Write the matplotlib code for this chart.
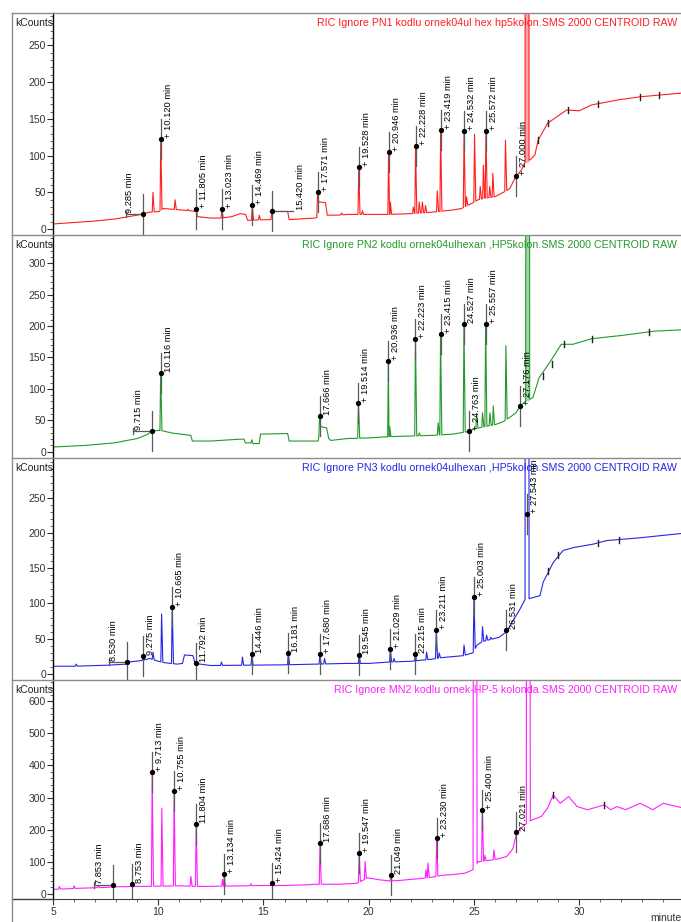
import numpy as np
import matplotlib
matplotlib.use("Agg")
import matplotlib.pyplot as plt
from matplotlib import font_manager
from matplotlib.ticker import MultipleLocator
from matplotlib.lines import Line2D


def has_font(name):
    try:
        font_manager.findfont(font_manager.FontProperties(family=name), fallback_to_default=False)
        return True
    except ValueError:
        return False


BASE_FONT = "Liberation Sans" if has_font("Liberation Sans") else "DejaVu Sans"
NARROW = has_font("Liberation Sans Narrow")
LABEL_FONT = "Liberation Sans Narrow" if NARROW else BASE_FONT
LABEL_SIZE = 7.5 if NARROW else 6.7
plt.rcParams["font.family"] = [BASE_FONT, "DejaVu Sans"]

# ---- data (time in minutes, kCounts) ----
titles = [
    "RIC Ignore PN1 kodlu ornek04ul hex hp5kolon.SMS 2000 CENTROID RAW",
    "RIC Ignore PN2 kodlu ornek04ulhexan ,HP5kolon.SMS 2000 CENTROID RAW",
    "RIC Ignore PN3 kodlu ornek04ulhexan ,HP5kolon.SMS 2000 CENTROID RAW",
    "RIC Ignore MN2 kodlu ornek-HP-5 kolonda.SMS 2000 CENTROID RAW",
]
colors = ["#ff1f1f", "#23992a", "#2626e8", "#ff1fff"]
ylims = [(-8, 294), (-10, 345), (-8.5, 306), (-16, 666)]
y_major = [50, 50, 50, 100]
y_minor = [10, 10, 10, 20]

# PN1
p1_base = [(5.0, 7), (6.0, 9), (7.0, 11), (8.0, 14), (9.0, 19), (9.6, 23), (10.05, 24), (10.25, 28),
           (10.7, 27), (11.5, 25), (11.78, 24), (11.86, 17), (12.5, 15), (13.0, 15), (13.5, 17),
           (13.9, 21), (14.15, 20), (14.25, 12), (15.35, 13), (15.42, 24), (16.15, 24), (16.22, 13),
           (17.45, 15), (17.55, 16), (17.62, 37), (17.95, 36), (18.03, 19), (18.5, 19), (19.0, 20),
           (20.0, 20), (21.0, 20), (22.0, 21), (23.0, 23), (24.0, 26), (24.4, 28), (24.9, 35),
           (25.2, 40), (25.5, 42), (26.0, 44), (26.4, 50), (26.7, 55), (27.0, 72), (27.25, 80),
           (27.42, 90), (27.7, 95), (27.9, 101), (28.05, 121), (28.5, 144), (29.4, 162), (30.0, 161),
           (30.6, 169), (31.9, 176), (32.9, 180), (34.84, 185)]
p1_peaks = [(9.75, 50), (10.12, 122), (10.8, 40), (11.4, 27), (11.805, 28), (13.023, 27),
            (14.469, 33), (14.8, 19), (17.571, 50), (18.71, 22), (19.528, 84), (19.7, 25),
            (20.946, 105), (21.03, 37), (22.12, 30), (22.228, 113), (22.4, 37), (22.55, 37),
            (22.7, 32), (23.26, 52), (23.419, 135), (24.532, 133), (24.65, 44), (25.03, 129),
            (25.3, 58), (25.45, 87), (25.572, 133), (25.75, 58), (25.9, 76), (26.5, 121)]
p1_big = [27.52]
p1_marks = [(9.285, 20), (10.120, 122), (11.805, 28), (13.023, 27), (14.469, 33), (15.420, 25),
            (17.571, 50), (19.528, 84), (20.946, 105), (22.228, 113), (23.419, 135), (24.532, 133),
            (25.572, 133), (27.000, 72)]
p1_labels = ["9.285 min", "+ 10.120 min", "+ 11.805 min", "+ 13.023 min", "+ 14.469 min",
             "15.420 min", "+ 17.571 min", "+ 19.528 min", "+ 20.946 min", "+ 22.228 min",
             "+ 23.419 min", "+ 24.532 min", "+ 25.572 min", "+ 27.000 min"]
p1_ticks = [(28.05, 121), (28.5, 144), (29.45, 162), (30.9, 170), (32.9, 180), (33.8, 183)]
p1_spans = [(8.45, 9.285, 20), (15.42, 16.42, 25)]

# PN2
p2_base = [(5.0, 7.5), (6.5, 10), (7.9, 14), (9.0, 21), (9.45, 27), (9.74, 33), (10.05, 34),
           (10.25, 33), (10.6, 30), (11.55, 26), (11.62, 17), (12.5, 17), (13.88, 20), (14.08, 20),
           (14.14, 14), (14.4, 14), (14.45, 19), (14.5, 13), (14.8, 13), (14.86, 28), (16.15, 29),
           (16.22, 17), (17.6, 17), (17.7, 40), (18.0, 38), (18.1, 21), (18.2, 18), (19.0, 21),
           (20.0, 22), (21.0, 24), (22.0, 25), (23.0, 26), (24.0, 28), (24.7, 32), (25.0, 36),
           (25.5, 40), (26.0, 43), (26.4, 48), (26.8, 57), (27.0, 62), (27.2, 73), (27.45, 80),
           (27.8, 86), (28.1, 118), (28.6, 142), (29.15, 171), (29.7, 171), (30.6, 180),
           (32.0, 185), (33.6, 192), (34.84, 194)]
p2_peaks = [(10.116, 126), (10.55, 31), (17.666, 57), (19.514, 78), (20.936, 145), (21.0, 40),
            (22.223, 180), (22.4, 30), (23.3, 46), (23.415, 188), (24.527, 203), (25.13, 60),
            (25.41, 62), (25.557, 204), (25.76, 62), (25.92, 73), (26.52, 169)]
p2_big = [27.55]
p2_marks = [(9.715, 33), (10.116, 126), (17.666, 57), (19.514, 77), (20.936, 145), (22.223, 180),
            (23.415, 188), (24.527, 203), (24.763, 33), (25.557, 204), (27.176, 73)]
p2_labels = ["9.715 min", "10.116 min", "17.666 min", "+ 19.514 min", "+ 20.936 min",
             "+ 22.223 min", "+ 23.415 min", "24.527 min", "+ 24.763 min", "+ 25.557 min",
             "+ 27.176 min"]
p2_ticks = [(28.3, 121), (28.7, 140), (29.3, 171), (30.6, 180), (33.3, 190)]
p2_spans = [(8.8, 9.715, 33)]

# PN3
p3_base = [(5.0, 11), (6.0, 11), (7.6, 12.5), (8.5, 14), (8.6, 17), (9.2, 19), (9.6, 22),
           (10.0, 18), (10.3, 16), (10.9, 14), (11.15, 15), (11.25, 27), (11.65, 26), (11.75, 15),
           (12.5, 12), (16.0, 13), (17.5, 14), (19.0, 15), (20.0, 15), (21.0, 17), (22.0, 18),
           (23.0, 21), (23.4, 23), (24.5, 26), (24.95, 30), (25.15, 41), (25.4, 46), (26.2, 52),
           (26.55, 60), (27.19, 92), (27.42, 105), (27.66, 107), (28.14, 111), (28.29, 130),
           (28.77, 158), (29.24, 175), (29.72, 179), (30.67, 184), (31.3, 189), (32.9, 193),
           (34.84, 199)]
p3_peaks = [(6.1, 14), (9.275, 25), (9.75, 31), (10.16, 85), (10.665, 95), (13.0, 17), (14.0, 24),
            (14.446, 28), (16.181, 30), (17.68, 28), (17.9, 22), (19.545, 27), (21.029, 36),
            (21.2, 22), (22.215, 28), (22.75, 31), (23.211, 62), (23.35, 30), (24.53, 41),
            (25.003, 109), (25.41, 67), (25.6, 55), (25.8, 52)]
p3_big = [27.52]
p3_marks = [(8.530, 16.5), (9.275, 25), (10.665, 95), (11.792, 15), (14.446, 28), (16.181, 30),
            (17.680, 28), (19.545, 27), (21.029, 36), (22.215, 28), (23.211, 62), (25.003, 109),
            (26.531, 62), (27.543, 226)]
p3_labels = ["8.530 min", "9.275 min", "+ 10.665 min", "11.792 min", "14.446 min", "16.181 min",
             "+ 17.680 min", "19.545 min", "+ 21.029 min", "22.215 min", "+ 23.211 min",
             "+ 25.003 min", "26.531 min", "+ 27.543 min"]
p3_ticks = [(28.5, 146), (29.0, 168), (30.9, 186), (31.9, 190)]
p3_spans = [(7.65, 8.53, 16.5)]

# MN2
p4_base = [(5.0, 14), (6.5, 18), (7.5, 20), (8.0, 22), (9.0, 23), (10.0, 24), (11.0, 25),
           (12.0, 23), (13.0, 24), (14.0, 25), (15.0, 26), (16.0, 26), (17.0, 28), (17.5, 30),
           (18.0, 30), (18.6, 30), (19.45, 33), (19.95, 50), (20.5, 44), (21.0, 40), (21.5, 42),
           (22.0, 45), (22.5, 48), (23.0, 52), (23.5, 58), (24.0, 60), (24.6, 65), (24.95, 75),
           (25.2, 100), (25.8, 105), (26.2, 110), (26.55, 116), (26.85, 140), (27.03, 190),
           (27.42, 215), (27.75, 230), (28.2, 241), (28.5, 267), (28.77, 308), (29.1, 282),
           (29.5, 303), (29.9, 272), (30.4, 262), (31.2, 277), (31.5, 262), (31.8, 272),
           (32.2, 262), (32.9, 282), (33.5, 262), (34.0, 282), (34.84, 269)]
p4_peaks = [(5.3, 23), (6.0, 25), (7.15, 25), (9.713, 379), (10.17, 267), (10.755, 319),
            (11.55, 54), (11.804, 217), (13.05, 45), (13.134, 61), (14.4, 32), (15.424, 33),
            (17.686, 158), (19.547, 127), (19.83, 101), (21.049, 55), (22.72, 75), (22.82, 96),
            (23.23, 174), (25.4, 262), (25.52, 120), (25.95, 137)]
p4_big = [25.05, 27.58]
p4_marks = [(7.853, 28), (8.753, 30), (9.713, 379), (10.755, 319), (11.804, 217), (13.134, 61),
            (15.424, 33), (17.686, 158), (19.547, 127), (21.049, 60), (23.230, 174), (25.400, 262),
            (27.021, 192)]
p4_labels = ["7.853 min", "8.753 min", "+ 9.713 min", "+ 10.755 min", "11.804 min",
             "+ 13.134 min", "+ 15.424 min", "17.686 min", "+ 19.547 min", "21.049 min",
             "+ 23.230 min", "+ 25.400 min", "27.021 min"]
p4_ticks = [(28.77, 308), (31.2, 277)]
p4_spans = [(6.95, 7.853, 28)]

x_ticks = [5, 10, 15, 20, 25, 30]

# label shifts in pixels (negative = label left of the marker line)
label_dx = {"9.285 min": -9, "15.420 min": 24, "9.715 min": -9, "8.530 min": -9, "7.853 min": -9}
# off-scale peaks drawn as a pale band in the first two traces
band_fill = [True, True, False, False]

panels = [
    (p1_base, p1_peaks, p1_big, p1_marks, p1_labels, p1_ticks, p1_spans),
    (p2_base, p2_peaks, p2_big, p2_marks, p2_labels, p2_ticks, p2_spans),
    (p3_base, p3_peaks, p3_big, p3_marks, p3_labels, p3_ticks, p3_spans),
    (p4_base, p4_peaks, p4_big, p4_marks, p4_labels, p4_ticks, p4_spans),
]


def build_trace(baseline, peaks, big):
    bt = np.array([p[0] for p in baseline])
    by = np.array([p[1] for p in baseline])
    windows, pts = [], []
    for t, h in peaks:
        windows.append((t - 0.035, t + 0.06))
        pts += [(t - 0.035, None), (t, h), (t + 0.06, None)]
    for t in big:
        windows.append((t - 0.09, t + 0.10))
        pts += [(t - 0.09, None), (t - 0.02, 5000), (t + 0.02, 5000), (t + 0.10, None)]
    for t, y in baseline:
        if not any(a < t < b for a, b in windows):
            pts.append((t, y))
    pts.sort(key=lambda p: p[0])
    xs = np.array([p[0] for p in pts])
    ys = np.array([np.interp(x, bt, by) if y is None else y for x, y in pts])
    return xs, ys


W, H = 681, 922
tops = [13, 235, 458, 680]
bottoms = [235, 458, 680, 899]
left_px = 53
frame_col = "#8c8c8c"

fig = plt.figure(figsize=(W / 100, H / 100), dpi=100)

for i, (base, peaks, big, marks, labels, ticks, spans) in enumerate(panels):
    hpx = bottoms[i] - tops[i]
    ax = fig.add_axes([left_px / W, 1 - bottoms[i] / H, 1 - left_px / W, hpx / H])
    ax.set_xlim(5, 34.84)
    ax.set_ylim(*ylims[i])
    col = colors[i]
    span = ylims[i][1] - ylims[i][0]
    per_px = span / hpx

    xs, ys = build_trace(base, peaks, big)
    ax.plot(xs, ys, color=col, lw=0.8, zorder=2)
    if band_fill[i]:
        for t in big:
            sel = (xs >= t - 0.09) & (xs <= t + 0.10)
            ax.fill_between(xs[sel], ys[sel], ys[sel].min(), color=col, alpha=0.4, lw=0, zorder=1)

    # peak markers
    for (t, y), lab in zip(marks, labels):
        ax.plot([t, t], [y - 20 * per_px, y + 20 * per_px], color="#5a5a5a", lw=0.9, zorder=3)
        ax.plot([t], [y], "o", color="black", ms=2.8, zorder=4)
        dx = label_dx.get(lab, 3)
        ax.annotate(lab, xy=(t, y), xytext=(dx, 1), textcoords="offset pixels",
                    rotation=90, ha="right" if dx < 0 else "left", va="bottom",
                    fontsize=LABEL_SIZE, family=LABEL_FONT, color="black", zorder=5)
    for t0, t1, y in spans:
        ax.plot([t0, t1], [y, y], color="#5a5a5a", lw=0.9, zorder=3)
        ax.plot([t0, t0], [y - 3 * per_px, y + 3 * per_px], color="#5a5a5a", lw=0.9, zorder=3)
    for t, y in ticks:
        ax.plot([t, t], [y - 3 * per_px, y + 3 * per_px], color="#222222", lw=1.0, zorder=3)

    ax.text(0.9936, 1 - 5 / hpx, titles[i], transform=ax.transAxes, ha="right", va="top",
            color=col, fontsize=7.7)
    fig.text(15 / W, 1 - (tops[i] + 5) / H, "kCounts", ha="left", va="top", fontsize=7.5,
             color="#222222")

    for s in ("top", "right", "bottom"):
        ax.spines[s].set_visible(False)
    ax.spines["left"].set_color("black")
    ax.spines["left"].set_linewidth(1.0)

    ax.yaxis.set_minor_locator(MultipleLocator(y_minor[i]))
    top_val = ylims[i][1] - 0.06 * span
    ax.set_yticks(np.arange(0, top_val, y_major[i]))
    ax.tick_params(axis="y", which="major", length=4, width=0.8, labelsize=7.5, pad=1,
                   colors="#333333")
    ax.tick_params(axis="y", which="minor", length=2, width=0.6, colors="#555555")
    ax.set_ylim(*ylims[i])

    if i < 3:
        ax.set_xticks([])
    else:
        ax.set_xticks(x_ticks)
        ax.xaxis.set_minor_locator(MultipleLocator(1))
        ax.tick_params(axis="x", which="major", length=4, width=0.8, labelsize=7.5, pad=2,
                       colors="#333333")
        ax.tick_params(axis="x", which="minor", length=2, width=0.6, colors="#555555")
        ax.spines["bottom"].set_visible(True)
        ax.spines["bottom"].set_color("#404040")

# outer frame lines
for y in [13, 235, 458, 680]:
    fig.add_artist(Line2D([12 / W, 1], [1 - y / H] * 2, color=frame_col, lw=1.0))
fig.add_artist(Line2D([12 / W, left_px / W], [1 - 899 / H] * 2, color="#404040", lw=1.0))
fig.add_artist(Line2D([12 / W] * 2, [1 - 13 / H, 0], color=frame_col, lw=1.0))
fig.text(650 / W, 1 - 918 / H, "minutes", ha="left", va="center", fontsize=7.5, color="#333333")

fig.savefig("out.png", dpi=100)
